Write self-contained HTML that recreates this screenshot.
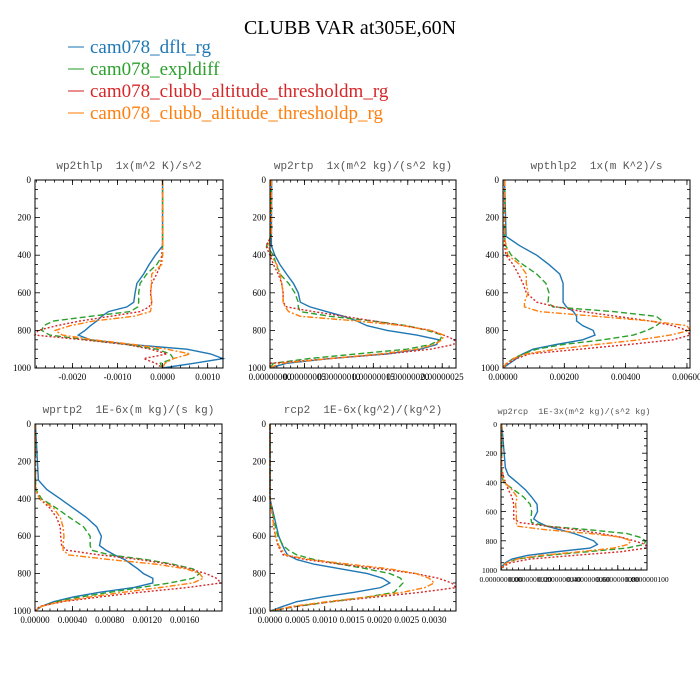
<!DOCTYPE html>
<html><head><meta charset="utf-8"><style>
html,body{margin:0;padding:0;background:#fff;}
svg{display:block;}
text{white-space:pre;}
</style></head><body>
<svg id="chart" width="700" height="700" xmlns="http://www.w3.org/2000/svg">
<rect width="700" height="700" fill="#fff"/>
<text x="350" y="34" text-anchor="middle" font-family="Liberation Serif, serif" font-size="20" fill="#000">CLUBB VAR at305E,60N</text>
<g id="legend"></g>
<g id="panels"></g>
</svg>
<script>
const levels = [0,300,350,400,450,500,550,600,650,675,700,725,750,775,800,825,850,875,900,925,950,975,1000];
const seriesNames = ["cam078_dflt_rg","cam078_expldiff","cam078_clubb_altitude_thresholdm_rg","cam078_clubb_altitude_thresholdp_rg"];
// wp2thlp (units 1e-3)
const p1Blue   = [0,0,0,-0.16,-0.3,-0.42,-0.57,-0.61,-0.64,-0.79,-1.2,-1.35,-1.46,-1.6,-1.72,-1.87,-1.6,-0.72,0.54,1.06,1.34,0.69,0];
const p1Green  = [0,0,0,0,-0.13,-0.35,-0.5,-0.53,-0.53,-0.55,-0.72,-1.6,-2.42,-2.64,-2.68,-2.5,-1.68,-0.79,-0.13,0.17,0.24,-0.05,0];
const p1Red    = [0,0,0,-0.02,-0.04,-0.13,-0.24,-0.27,-0.24,-0.3,-0.5,-1.16,-1.83,-2.35,-2.76,-2.83,-1.76,-0.79,-0.27,0.1,-0.42,-0.15,0];
const p1Orange = [0,0,0,0,-0.02,-0.24,-0.25,-0.26,-0.24,-0.25,-0.27,-0.64,-1.53,-2.05,-2.38,-2.22,-1.53,-0.64,0.1,0.61,0.24,0.05,0];
const p1Ticks = [-2,-1,0,1];
const p1Labels = ["-0.0020","-0.0010","0.0000","0.0010"];
// wp2rtp (units 1e-8)
const p2Blue   = [0.24,0.2,0.2,0.7,1.45,2.4,3.4,4.1,4.4,5.8,8.2,10.7,12.6,14.1,17,21.3,24.5,24.2,21.8,17,8.7,2.4,0];
const p2Green  = [0.2,0.1,-0.5,0.5,0.9,1.45,2.7,3.6,4.1,4.1,4.4,8.7,15,19.9,22.8,25,24.7,23.3,19.9,12.6,5.6,0.5,0];
const p2Red    = [0.2,0.2,-0.6,0,0.5,1.2,1.7,1.9,1.9,2.4,6.3,10.7,15,19.4,23.3,25.2,26.8,26.7,23.3,17,8.7,0,0];
const p2Orange = [0.2,0.2,-0.2,0.1,1,1.45,1.7,1.9,1.9,2.2,2.7,4.4,12.6,19.4,23.3,25.2,25,23.8,21.3,16,8.7,1.45,0];
const p2Ticks = [0,5,10,15,20,25];
const p2Labels = ["0.00000000","0.00000005","0.00000010","0.00000015","0.00000020","0.00000025"];
// wpthlp2 (units 1e-3)
const p3Blue   = [0.05,0.1,0.55,1.1,1.5,1.85,1.96,1.96,1.96,2.07,2.3,2.4,2.4,2.6,2.94,3.0,2.6,1.74,0.98,0.65,0.44,0.22,0];
const p3Green  = [0.05,0.05,0.09,0.27,0.65,1.1,1.4,1.5,1.47,1.63,3.6,5.0,5.2,5.0,4.7,4.25,3.27,1.96,1.1,0.65,0.33,0.11,0];
const p3Red    = [0.05,0.05,0.05,0.1,0.33,0.5,0.65,0.76,1.1,1.74,2.6,3.7,4.8,5.55,6.0,6.1,5.55,4.1,2.5,0.87,0.44,0.16,0];
const p3Orange = [0.05,0.05,0.1,0.16,0.55,0.76,0.76,0.82,0.7,0.7,1.2,3.05,4.8,6.0,6.1,5.45,4.46,3.05,1.74,0.76,0.33,0.11,0];
const p3Ticks = [0,2,4,6];
const p3Labels = ["0.00000","0.00200","0.00400","0.00600"];
// wprtp2 (units 1e-4)
const p4Blue   = [0.05,0.36,1.25,2.7,4.1,5.5,6.6,7.1,6.9,7.6,8.5,9.6,10.3,11.0,11.6,12.6,12.6,10.5,6.9,4.1,2.0,0.7,0];
const p4Green  = [0.05,0.05,0.1,0.7,2.3,3.7,5.2,5.9,5.9,6.05,8.0,11.9,14.8,16.9,17.6,16.9,14.4,11.2,8.0,4.8,2.3,0.7,0];
const p4Red    = [0.05,0.05,0.05,0.5,1.6,2.3,2.7,2.75,2.85,3.4,6.9,11.2,14.4,16.5,18.3,19.4,19.9,16.2,11.2,6.9,3.0,0.5,0];
const p4Orange = [0.05,0.05,0.05,0.5,2.0,2.7,3.0,3.1,3.0,3.0,3.6,8.0,13,16.2,17.6,18,16.9,13.3,9.4,5.9,2.7,0.7,0];
const p4Ticks = [0,4,8,12,16];
const p4Labels = ["0.00000","0.00040","0.00080","0.00120","0.00160"];
// rcp2 (units 1e-4)
const p5Blue   = [0,0,0,0,0.4,0.8,1.2,1.6,2.3,2.7,3.2,4.9,8.1,13,17.8,20.6,21.9,20.2,15.4,9.7,4.9,2.4,0];
const p5Green  = [0,0,0,0,0.3,0.65,1.0,1.45,2.4,3.4,4.9,8.1,13,17.8,21.9,23.9,24.3,23.5,22.7,17.8,11.3,4.9,0];
const p5Red    = [0,0,0,0,0.25,0.5,0.65,1.0,1.45,1.9,2.4,6.5,13,20.2,26.7,30.8,33.2,34,27.5,19.4,11.3,4.9,0];
const p5Orange = [0,0,0,0,0.25,0.5,0.7,1.05,1.6,2.2,2.8,7.3,14.6,21.9,26.7,29.1,30,28.3,24.3,17.8,10.5,4.1,0];
const p5Ticks = [0,5,10,15,20,25,30];
const p5Labels = ["0.0000","0.0005","0.0010","0.0015","0.0020","0.0025","0.0030"];
// wp2rcp (relative units)
const p6Blue   = [0.05,0.3,0.5,1.1,1.67,2.1,2.47,2.5,2.24,2.6,3.15,4.06,5.0,5.7,6.35,6.6,6.1,3.8,1.8,0.75,0.3,0.07,0];
const p6Green  = [0.05,0.05,0.05,0.18,0.87,1.55,2.0,2.1,2.05,2.1,3.15,6.1,8.6,9.5,9.9,9.8,8.6,5.9,3.15,1.1,0.4,0.07,0];
const p6Red    = [0.05,0.05,0.14,0.3,0.5,0.75,0.87,0.87,0.87,1.3,3.15,5.2,6.8,8.2,9.1,9.9,9.95,8.2,5.0,2.0,0.64,0.18,0];
const p6Orange = [0.05,0.05,0.05,0.23,0.75,1.1,1.0,1.05,1.05,1.05,1.1,3.15,6.1,8.2,8.9,8.7,7.7,5.4,2.7,1.1,0.4,0.07,0];
const p6Ticks = [0,2,4,6,8,10];
const p6Labels = ["0.0000000000","0.0000000020","0.0000000040","0.0000000060","0.0000000080","0.0000000100"];

const colors = ["#1f77b4","#2ca02c","#d62728","#ff7f0e"];
const dashes = ["", "6,3", "2,2", "6,2,2,2"];
const NS = "http://www.w3.org/2000/svg";
const svg = document.getElementById("chart");
const panelsG = document.getElementById("panels");
const legendG = document.getElementById("legend");
function mk(tag, attrs, parent){ const e=document.createElementNS(NS,tag); for(const k in attrs) e.setAttribute(k,attrs[k]); parent.appendChild(e); return e; }

// legend
seriesNames.forEach((n,i)=>{
  const y = 47 + i*22;
  const g = mk("g",{},legendG);
  
  
  const l = mk("line",{x1:68,x2:84,y1:y,y2:y,stroke:colors[i],"stroke-width":1.5,"stroke-opacity":0.7},g);
  
  
  const t = mk("text",{x:90,y:y+6,fill:colors[i],"font-family":"Liberation Serif, serif","font-size":19},g);
  
  
  t.textContent = n;
});

const panels = [
 {name:"wp2thlp", title:"wp2thlp  1x(m^2 K)/s^2", x0:35,x1:223,y0:180,y1:368, xmin:-2.83,xmax:1.34, s:[p1Blue,p1Green,p1Red,p1Orange], ticks:p1Ticks, labels:p1Labels, tfs:11, lfs:9},
 {name:"wp2rtp", title:"wp2rtp  1x(m^2 kg)/(s^2 kg)", x0:270,x1:456,y0:180,y1:368, xmin:0,xmax:27, s:[p2Blue,p2Green,p2Red,p2Orange], ticks:p2Ticks, labels:p2Labels, tfs:11, lfs:9},
 {name:"wpthlp2", title:"wpthlp2  1x(m K^2)/s", x0:503,x1:690,y0:180,y1:368, xmin:0,xmax:6.1, s:[p3Blue,p3Green,p3Red,p3Orange], ticks:p3Ticks, labels:p3Labels, tfs:11, lfs:9},
 {name:"wprtp2", title:"wprtp2  1E-6x(m kg)/(s kg)", x0:35,x1:222,y0:424,y1:611, xmin:0,xmax:20, s:[p4Blue,p4Green,p4Red,p4Orange], ticks:p4Ticks, labels:p4Labels, tfs:11, lfs:9},
 {name:"rcp2", title:"rcp2  1E-6x(kg^2)/(kg^2)", x0:270,x1:456,y0:424,y1:611, xmin:0,xmax:34, s:[p5Blue,p5Green,p5Red,p5Orange], ticks:p5Ticks, labels:p5Labels, tfs:11, lfs:9},
 {name:"wp2rcp", title:"wp2rcp  1E-3x(m^2 kg)/(s^2 kg)", x0:501,x1:647,y0:424,y1:570, xmin:0,xmax:10, s:[p6Blue,p6Green,p6Red,p6Orange], ticks:p6Ticks, labels:p6Labels, tfs:8.5, lfs:7.5}
];

panels.forEach(p=>{
  const g = mk("g",{},panelsG);
  
  
  const xs = v => p.x0 + (v-p.xmin)/(p.xmax-p.xmin)*(p.x1-p.x0);
  const ys = v => p.y0 + v/1000*(p.y1-p.y0);
  const t = mk("text",{x:(p.x0+p.x1)/2,y:p.y0-(p.tfs>10?11:10),"text-anchor":"middle","font-family":"Liberation Mono, monospace","font-size":p.tfs,fill:"#555"},g);
  
  
  t.textContent = p.title;
  p.s.forEach((vals,i)=>{
    const d = vals.map((v,k)=>(k?"L":"M")+xs(v).toFixed(2)+","+ys(levels[k]).toFixed(2)).join(" ");
    const path = mk("path",{d:d,fill:"none",stroke:colors[i],"stroke-width":1.4,"stroke-dasharray":dashes[i]},g);
    
    
  });
  const fr = mk("rect",{x:p.x0,y:p.y0,width:p.x1-p.x0,height:p.y1-p.y0,fill:"none",stroke:"#000","stroke-width":1},g);
  
  
  const yax = mk("g",{},g);
  
  
  for(let v=0; v<=1000; v+=50){
    const y = ys(v); const major = v%200===0; const L = major?5:3;
    mk("line",{x1:p.x0,x2:p.x0+L,y1:y,y2:y,stroke:"#000","stroke-width":0.8},yax);
    mk("line",{x1:p.x1,x2:p.x1-L,y1:y,y2:y,stroke:"#000","stroke-width":0.8},yax);
    if(major){
      const tl = mk("text",{x:p.x0-4,y:y+3,"text-anchor":"end","font-family":"Liberation Serif, serif","font-size":p.lfs},yax);
      tl.textContent = v;
    }
  }
  const xax = mk("g",{},g);
  
  
  const step = p.ticks[1]-p.ticks[0];
  for(let v=p.ticks[0]-step; v<=p.xmax+1e-9; v+=step/5){
    if(v < p.xmin-1e-9) continue;
    const x = xs(v);
    mk("line",{x1:x,x2:x,y1:p.y1,y2:p.y1-2.5,stroke:"#000","stroke-width":0.8},xax);
    mk("line",{x1:x,x2:x,y1:p.y0,y2:p.y0+2.5,stroke:"#000","stroke-width":0.8},xax);
  }
  p.ticks.forEach((v,k)=>{
    const x = xs(v);
    mk("line",{x1:x,x2:x,y1:p.y1,y2:p.y1-5,stroke:"#000","stroke-width":0.8},xax);
    mk("line",{x1:x,x2:x,y1:p.y0,y2:p.y0+5,stroke:"#000","stroke-width":0.8},xax);
    const tl = mk("text",{x:x,y:p.y1+12,"text-anchor":"middle","font-family":"Liberation Serif, serif","font-size":p.lfs},xax);
    tl.textContent = p.labels[k];
  });
});
</script>
</body></html>
